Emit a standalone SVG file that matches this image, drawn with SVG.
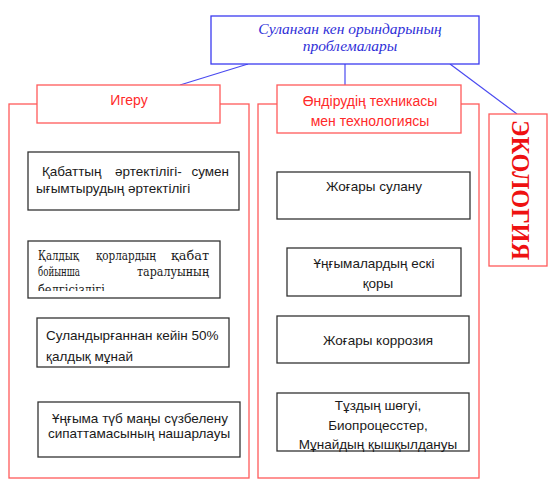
<svg xmlns="http://www.w3.org/2000/svg" width="556" height="493" viewBox="0 0 556 493">
<style>
.bg{fill:#fff}
.blue{fill:#fff;stroke:#3b3bf0;stroke-width:1.3}
.red{fill:#fff;stroke:#ff5a5a;stroke-width:1.3}
.cont{fill:none;stroke:#ff5a5a;stroke-width:1.3}
.box{fill:#fff;stroke:#333;stroke-width:1.3}
.conn{stroke:#4a4af0;stroke-width:1.2;fill:none}
.s{font-family:"Liberation Sans",Arial,sans-serif;font-size:13.5px;fill:#1a1a1a}
.r{font-family:"DejaVu Serif",serif;font-stretch:condensed;font-size:13.5px;fill:#1a1a1a}
.h{font-family:"Liberation Sans",Arial,sans-serif;font-size:14px;fill:#ff2a2a}
.t{font-family:"Liberation Serif","Times New Roman",serif;font-style:italic;font-size:15.5px;fill:#2f2fd8}
.e{font-family:"Liberation Serif","Times New Roman",serif;font-weight:bold;font-size:25px;fill:#ee1111}
</style>
<defs>
<clipPath id="c2"><rect x="28" y="241" width="192" height="50"/></clipPath>
</defs>
<rect class="bg" width="556" height="493"/>
<g id="containers">
<rect class="cont" x="9" y="104" width="240" height="374"/>
<rect class="cont" x="258" y="104" width="221" height="374"/>
</g>
<g id="connectors">
<line class="conn" x1="248" y1="64" x2="180" y2="85"/>
<line class="conn" x1="345" y1="64" x2="345" y2="85"/>
<line class="conn" x1="450" y1="64" x2="517" y2="114"/>
</g>
<g id="top">
<rect class="blue" x="211" y="16" width="268" height="48"/>
<text class="t" x="350" y="34" text-anchor="middle">Суланған кен орындарының</text>
<text class="t" x="350" y="51" text-anchor="middle">проблемалары</text>
</g>
<g id="igeru">
<rect class="red" x="37" y="85" width="183" height="38"/>
<text class="h" x="129" y="105" text-anchor="middle">Игеру</text>
</g>
<g id="ondiru">
<rect class="red" x="277" y="85" width="184" height="48"/>
<text class="h" x="370" y="106" text-anchor="middle">Өндірудің техникасы</text>
<text class="h" x="370" y="126" text-anchor="middle">мен технологиясы</text>
</g>
<g id="ekologiya">
<rect class="red" x="489" y="114" width="58" height="152"/>
<text class="e" transform="translate(512,190) rotate(90)" text-anchor="middle" textLength="140" lengthAdjust="spacingAndGlyphs">ЭКОЛОГИЯ</text>
</g>
<g id="n1">
<rect class="box" x="28" y="152" width="211" height="58"/>
<text class="s" x="42" y="176">Қабаттың</text>
<text class="s" x="115" y="176">әртектілігі-</text>
<text class="s" x="229" y="176" text-anchor="end">сумен</text>
<text class="s" x="36" y="193">ығымтырудың әртектілігі</text>
</g>
<g id="n2">
<rect class="box" x="28" y="241" width="192" height="57"/>
<g clip-path="url(#c2)">
<text class="r" x="38" y="260" textLength="41" lengthAdjust="spacingAndGlyphs">Қалдық</text>
<text class="r" x="96" y="260" textLength="60" lengthAdjust="spacingAndGlyphs">қорлардың</text>
<text class="r" x="171" y="260" textLength="38" lengthAdjust="spacingAndGlyphs">қабат</text>
<text class="r" x="38" y="276" textLength="42" lengthAdjust="spacingAndGlyphs">бойынша</text>
<text class="r" x="137" y="276" textLength="72" lengthAdjust="spacingAndGlyphs">таралуының</text>
<text class="r" x="38" y="294" textLength="67" lengthAdjust="spacingAndGlyphs">белгісіздігі</text>
</g>
</g>
<g id="n3">
<rect class="box" x="37" y="318" width="192" height="49"/>
<text class="s" x="46" y="340">Суландырғаннан кейін 50%</text>
<text class="s" x="46" y="361">қалдық мұнай</text>
</g>
<g id="n4">
<rect class="box" x="38" y="402" width="202" height="55"/>
<text class="s" x="52" y="423">Ұңғыма түб маңы сүзбелену</text>
<text class="s" x="48" y="438">сипаттамасының нашарлауы</text>
</g>
<g id="n5">
<rect class="box" x="277" y="172" width="193" height="47"/>
<text class="s" x="374" y="191" text-anchor="middle">Жоғары сулану</text>
</g>
<g id="n6">
<rect class="box" x="287" y="248" width="174" height="48"/>
<text class="s" x="374" y="268" text-anchor="middle">Ұңғымалардың ескі</text>
<text class="s" x="378" y="288" text-anchor="middle">қоры</text>
</g>
<g id="n7">
<rect class="box" x="277" y="316" width="192" height="47"/>
<text class="s" x="378" y="345" text-anchor="middle">Жоғары коррозия</text>
</g>
<g id="n8">
<rect class="box" x="277" y="393" width="192" height="58"/>
<text class="s" x="378" y="410" text-anchor="middle">Тұздың шөгуі,</text>
<text class="s" x="378" y="430" text-anchor="middle">Биопроцесстер,</text>
<text class="s" x="378" y="449" text-anchor="middle">Мұнайдың қышқылдануы</text>
</g>
</svg>
